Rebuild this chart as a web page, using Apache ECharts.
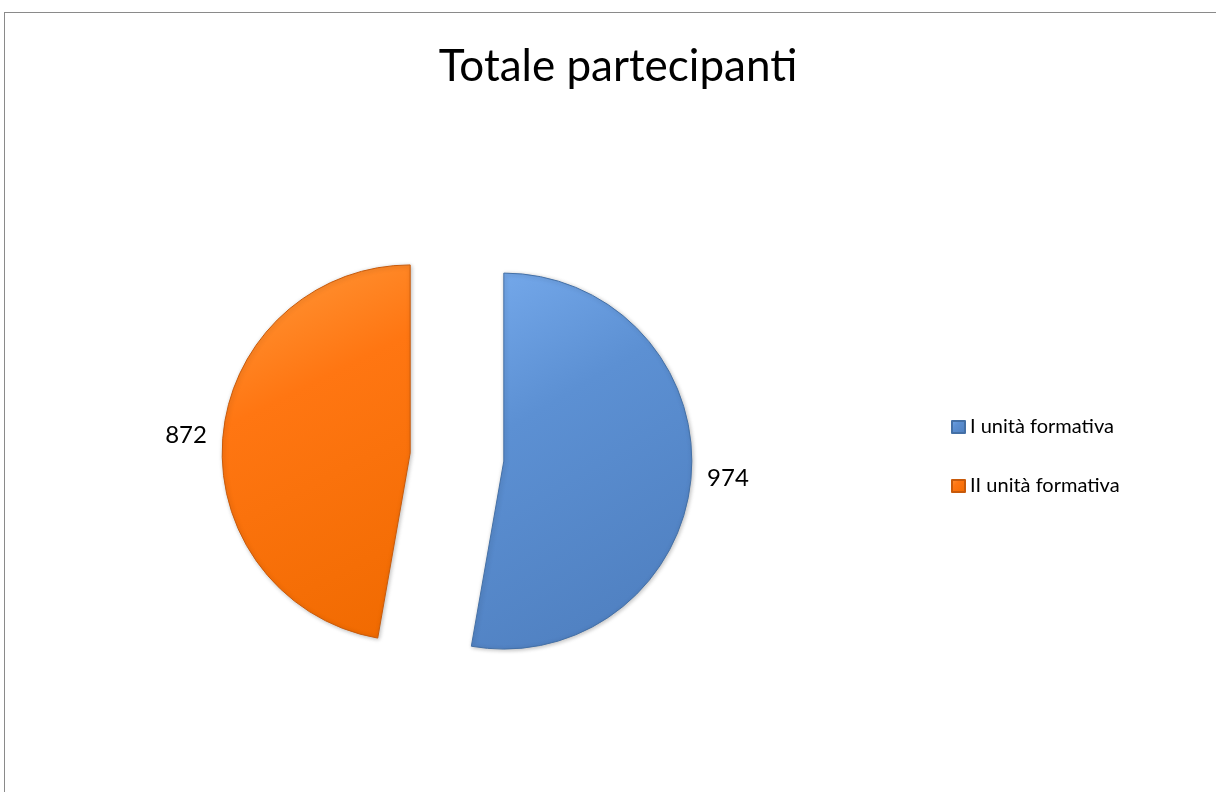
<!DOCTYPE html>
<html>
<head>
<meta charset="utf-8">
<script src="https://cdn.jsdelivr.net/npm/echarts@6/dist/echarts.min.js"></script>
<style>
  html, body { margin: 0; padding: 0; background: #fff; }
  #frame { position: absolute; left: 4px; top: 12px; width: 1400px; height: 1000px; border: 1px solid #8a8a8a; box-sizing: border-box; }
  #chart { position: absolute; left: 0; top: 0; width: 1216px; height: 792px; }
</style>
</head>
<body>
<div id="frame"></div>
<div id="chart"></div>
<script>
const chartTitle = 'Totale partecipanti';
const categories = ['I unità formativa', 'II unità formativa'];
const values = [974, 872];

const fills = [
  new echarts.graphic.LinearGradient(0, 0, 1, 1, [
    { offset: 0, color: '#76aaec' },
    { offset: 0.35, color: '#5c90d3' },
    { offset: 1, color: '#4d7dbd' }
  ]),
  new echarts.graphic.LinearGradient(0, 0, 1, 1, [
    { offset: 0, color: '#ff9a3c' },
    { offset: 0.35, color: '#ff7612' },
    { offset: 1, color: '#f06a00' }
  ])
];
const borders = ['#4470a6', '#c85a0a'];

const chart = echarts.init(document.getElementById('chart'));
chart.setOption({
  animation: false,
  backgroundColor: 'transparent',
  graphic: [{
    type: 'text',
    x: 618,
    y: 67,
    style: {
      text: chartTitle,
      font: '44px Lato',
      fill: '#000',
      align: 'center',
      verticalAlign: 'middle'
    }
  }],
  legend: {
    orient: 'vertical',
    left: 946,
    top: 412,
    itemWidth: 13,
    itemHeight: 12,
    itemGap: 39,
    icon: 'rect',
    selectedMode: false,
    textStyle: { fontFamily: 'Lato', fontSize: 20, color: '#000', padding: [0, 0, 0, 0] },
    data: categories
  },
  series: [{
    type: 'pie',
    center: [457, 457],
    radius: [0, 188],
    startAngle: 90,
    clockwise: true,
    selectedMode: 'multiple',
    selectedOffset: 47,
    avoidLabelOverlap: false,
    label: {
      show: true,
      position: 'outside',
      formatter: '{c}',
      fontFamily: 'Lato',
      fontSize: 24,
      color: '#000'
    },
    labelLine: { show: false, length: 10, length2: 1 },
    emphasis: { disabled: true },
    data: categories.map((name, i) => ({
      name: name,
      value: values[i],
      selected: true,
      itemStyle: { color: fills[i], borderColor: borders[i], borderWidth: 1, shadowBlur: 4, shadowColor: 'rgba(0,0,0,0.25)', shadowOffsetX: 1, shadowOffsetY: 1 }
    }))
  }]
});
</script>
</body>
</html>
